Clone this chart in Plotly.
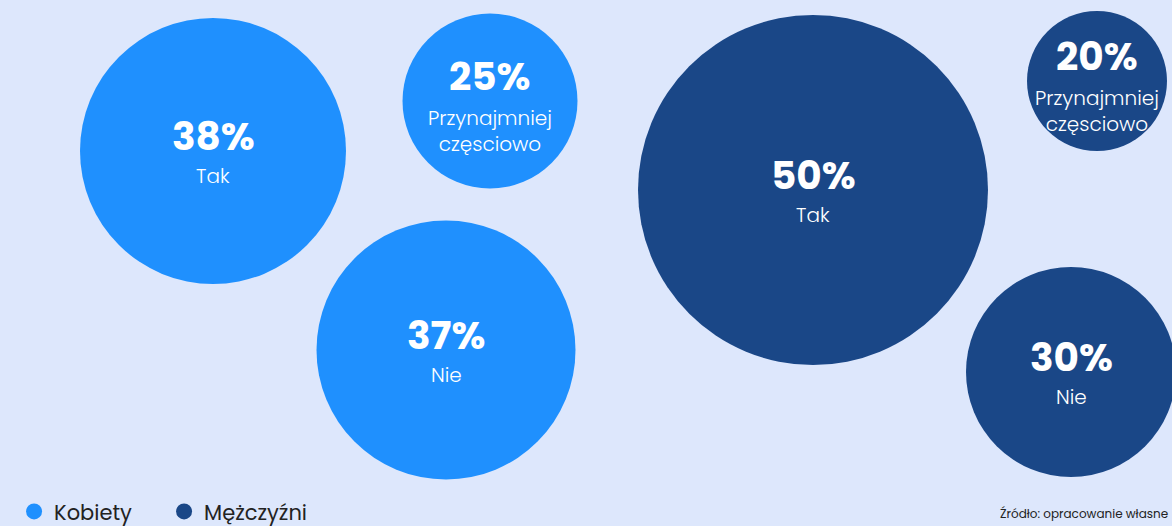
import plotly.graph_objects as go

# Data
groups = ["Kobiety", "Mężczyźni"]
answers = ["Tak", "Przynajmniej<br>częsciowo", "Nie"]
kobiety_values = [38, 25, 37]
mezczyzni_values = [50, 20, 30]
source_text = "Źródło: opracowanie własne"

# Layout (bubble placement in pixel space of a 1172x526 canvas)
W, H = 1172, 526
kobiety_x = [213, 490, 446]
kobiety_y = [151, 101, 350]
mezczyzni_x = [813, 1097, 1071]
mezczyzni_y = [190, 81, 372]

colors = {"Kobiety": "#1f90fe", "Mężczyźni": "#1a4787"}
BG = "#dde7fc"
FONT = "Poppins, Inter, Lato, sans-serif"
SCALE = 7.0  # diameter px per percentage point

fig = go.Figure()
annotations = []
for name, vals, xs, ys in [
    ("Kobiety", kobiety_values, kobiety_x, kobiety_y),
    ("Mężczyźni", mezczyzni_values, mezczyzni_x, mezczyzni_y),
]:
    fig.add_trace(go.Scatter(
        x=xs, y=ys, mode="markers", name=name, showlegend=False,
        marker=dict(size=vals, sizemode="diameter", sizeref=1 / SCALE,
                    color=colors[name], line=dict(width=0), opacity=1),
        hoverinfo="skip", cliponaxis=False,
    ))
    # legend entry
    fig.add_trace(go.Scatter(
        x=[None], y=[None], mode="markers", name=name, showlegend=True,
        marker=dict(size=18, color=colors[name], line=dict(width=0)),
        hoverinfo="skip",
    ))
    for v, a, x, y in zip(vals, answers, xs, ys):
        two = "<br>" in a
        annotations.append(dict(
            x=x, y=y - (25 if two else 15), xref="x", yref="y",
            text=f"<b>{v}%</b>", showarrow=False, yanchor="middle",
            borderpad=0,
            font=dict(family=FONT, size=39, color="white"),
        ))
        annotations.append(dict(
            x=x, y=y + (2 if two else 10), xref="x", yref="y",
            text=a, showarrow=False, yanchor="top", borderpad=0,
            font=dict(family=FONT, size=20, color="white", weight=300),
        ))

annotations.append(dict(
    x=1170, y=524, xref="x", yref="y", text=source_text, showarrow=False,
    xanchor="right", yanchor="bottom", font=dict(family=FONT, size=12, color="#222"),
))

fig.update_layout(
    width=W, height=H, autosize=False,
    margin=dict(l=0, r=0, t=0, b=0, autoexpand=False),
    paper_bgcolor=BG, plot_bgcolor=BG,
    xaxis=dict(range=[0, W], visible=False, fixedrange=True),
    yaxis=dict(range=[H, 0], visible=False, fixedrange=True),
    showlegend=True,
    legend=dict(orientation="h", x=0.012, y=-0.012, xanchor="left", yanchor="bottom",
                itemsizing="trace", bgcolor="rgba(0,0,0,0)",
                entrywidth=105, entrywidthmode="pixels",
                font=dict(family=FONT, size=21, color="#222"),
                itemwidth=30, tracegroupgap=0),
    annotations=annotations,
)

fig.write_html("out.html")
